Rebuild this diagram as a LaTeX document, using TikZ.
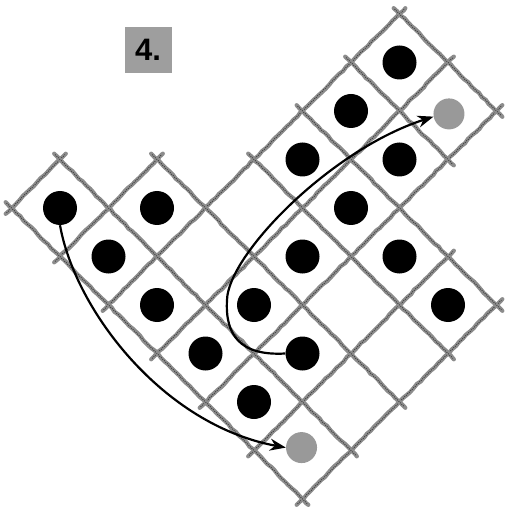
\documentclass[tikz,border=0pt]{standalone}
\usepackage{fontspec}
\setsansfont{Liberation Sans}
\usetikzlibrary{arrows.meta,decorations.pathmorphing}
\begin{document}
\begin{tikzpicture}[x=1pt,y=-1pt,
  gridline/.style={draw=black!45,line width=4.2pt,line cap=round,
    decorate,decoration={random steps,segment length=5pt,amplitude=0.6pt}},
  gridspeck/.style={draw=black!85,line width=1pt,dash pattern=on 0.7pt off 1.4pt},
  bdot/.style={circle,fill=black,minimum size=34pt,inner sep=0pt},
  gdot/.style={circle,fill=black!40,minimum size=31pt,inner sep=0pt},
  arrowline/.style={draw=black,line width=2.2pt,-{Stealth[length=16pt,width=12pt]}},
  labelbox/.style={fill=black!38,minimum width=47pt,minimum height=46pt,inner sep=0pt,
    font=\sffamily\bfseries\fontsize{31}{31}\selectfont}]
\useasboundingbox (0,0) rectangle (506,518);

\node[labelbox] (lbl) at (148,50) {4.};

\begin{scope}[shift={(60,208)},x={(48.5pt,-48.5pt)},y={(48.5pt,48.5pt)}]
  % lines of constant u (running up-right)
  \foreach \u/\a/\b in {-0.5/-0.5/0.5, 0.5/-0.5/1.5, 1.5/-0.5/5.5, 2.5/-0.5/5.5,
                        3.5/-0.5/5.5, 4.5/-0.5/3.5, 5.5/-0.5/3.5}{
    \draw[gridline] (\u,\a-0.12) -- (\u,\b+0.12);
    \draw[gridspeck] (\u,\a-0.1) -- (\u,\b+0.1);
  }
  % lines of constant v (running down-right)
  \foreach \v/\a/\b in {-0.5/-0.5/5.5, 0.5/-0.5/5.5, 1.5/0.5/5.5, 2.5/1.5/5.5,
                        3.5/1.5/5.5, 4.5/1.5/3.5, 5.5/1.5/3.5}{
    \draw[gridline] (\a-0.12,\v) -- (\b+0.12,\v);
    \draw[gridspeck] (\a-0.1,\v) -- (\b+0.1,\v);
  }
  % black dots
  \foreach \i/\j in {0/0,1/0,1/1,2/0,2/3,2/4,2/5,3/0,3/1,3/2,3/3,3/4,4/0,4/1,4/3,5/3}{
    \node[bdot] (d\i\j) at (\i,\j) {};
  }
  % grey dots
  \node[gdot] (g50) at (4.96,0.02) {};
  \node[gdot] (g35) at (3.04,4.98) {};
\end{scope}

\draw[arrowline] (d00.south) .. controls (75,310) and (163,425) .. (g50.west);
\draw[arrowline] (d41.west) .. controls (240,356) and (225,335) .. (227,300)
  .. controls (228,255) and (330,150) .. (g35.190);
\end{tikzpicture}
\end{document}
